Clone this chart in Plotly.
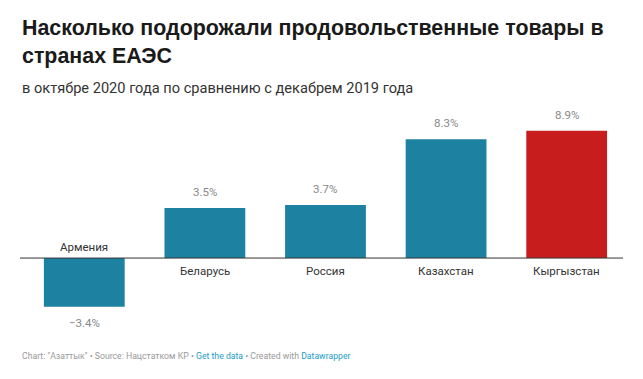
import plotly.graph_objects as go

countries = ["Армения", "Беларусь", "Россия", "Казахстан", "Кыргызстан"]
values = [-3.4, 3.5, 3.7, 8.3, 8.9]
value_labels = ["−3.4%", "3.5%", "3.7%", "8.3%", "8.9%"]
colors = ["#1d81a2", "#1d81a2", "#1d81a2", "#1d81a2", "#c71e1d"]

FONT = "Roboto, Arial, sans-serif"
TFONT = "Liberation Sans, Arial, sans-serif"

fig = go.Figure()
fig.add_trace(go.Bar(
    x=countries, y=values, marker=dict(color=colors, line=dict(width=0)),
    width=0.67, hoverinfo="skip"
))

annotations = []
for c, v, lab in zip(countries, values, value_labels):
    if v >= 0:
        annotations.append(dict(x=c, y=v, xref="x", yref="y", text=lab, showarrow=False,
                                yshift=16, font=dict(family=FONT, size=11.5, color="#888888")))
        annotations.append(dict(x=c, y=0, xref="x", yref="y", text=c, showarrow=False,
                                yshift=-13, font=dict(family=FONT, size=11.5, color="#333333")))
    else:
        annotations.append(dict(x=c, y=v, xref="x", yref="y", text=lab, showarrow=False,
                                yshift=-16, font=dict(family=FONT, size=11.5, color="#888888")))
        annotations.append(dict(x=c, y=0, xref="x", yref="y", text=c, showarrow=False,
                                yshift=11, font=dict(family=FONT, size=11.5, color="#333333")))

annotations += [
    dict(x=0, y=1, xref="paper", yref="paper", xanchor="left", yanchor="top",
         text="<b>Насколько подорожали продовольственные товары в<br>странах ЕАЭС</b>",
         showarrow=False, align="left",
         font=dict(family=TFONT, size=21.4, color="#1a1a1a"),
         yshift=96),
    dict(x=0, y=1, xref="paper", yref="paper", xanchor="left", yanchor="top",
         text="в октябре 2020 года по сравнению с декабрем 2019 года",
         showarrow=False, align="left",
         font=dict(family=FONT, size=14.6, color="#333333"),
         yshift=33),
    dict(x=0, y=0, xref="paper", yref="paper", xanchor="left", yanchor="top",
         text="Chart: \"Азаттык\" • Source: Нацстатком КР • <span style='color:#1d9bc6'>Get the data</span> • Created with <span style='color:#1d9bc6'>Datawrapper</span>",
         showarrow=False, align="left",
         font=dict(family=FONT, size=8.7, color="#999999"),
         yshift=-14),
]

fig.update_layout(
    width=643, height=379,
    margin=dict(l=20, r=20, t=110, b=44),
    paper_bgcolor="white", plot_bgcolor="white",
    showlegend=False,
    bargap=0.33,
    xaxis=dict(visible=False, range=[-0.533, 4.467], fixedrange=True),
    yaxis=dict(visible=False, range=[-5.38, 10.35], zeroline=False, fixedrange=True),
    annotations=annotations,
)

fig.add_shape(type="line", xref="paper", yref="y", x0=0, x1=1, y0=0, y1=0,
              line=dict(color="#333333", width=1))

fig.write_html("out.html", config={"displayModeBar": False},
               post_script="document.body.style.margin='0';document.body.style.overflow='hidden';")
